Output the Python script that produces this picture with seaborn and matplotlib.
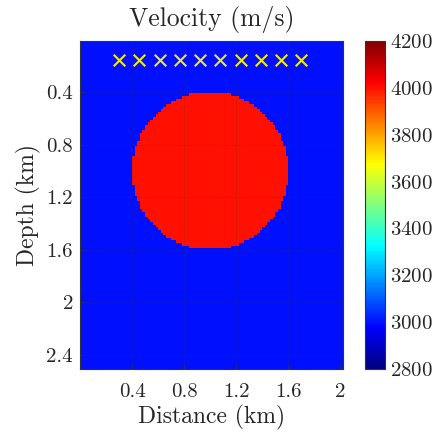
import numpy as np
import matplotlib
matplotlib.use("Agg")
import matplotlib.pyplot as plt
from matplotlib.colors import LinearSegmentedColormap
import seaborn as sns

# model grid (km)
dx = 0.02
x_edges = [0.0, 2.02]
z_edges = [0.01, 2.51]
v_background = 3000.0
v_anomaly = 4000.0
circle_center = [1.0, 1.0]
circle_radius = 0.6

# sources (km)
src_x = [0.30, 0.456, 0.611, 0.767, 0.922, 1.078, 1.233, 1.389, 1.544, 1.70]
src_z = [0.157] * 10

x_ticks = [0.4, 0.8, 1.2, 1.6, 2.0]
x_labels = ["0.4", "0.8", "1.2", "1.6", "2"]
z_ticks = [0.4, 0.8, 1.2, 1.6, 2.0, 2.4]
z_labels = ["0.4", "0.8", "1.2", "1.6", "2", "2.4"]
cbar_ticks = [2800, 3000, 3200, 3400, 3600, 3800, 4000, 4200]
vmin, vmax = 2800, 4200

# matlab-style jet
jet_ml = LinearSegmentedColormap("jet_ml", {
    "red":   [(0, 0, 0), (0.375, 0, 0), (0.625, 1, 1), (0.875, 1, 1), (1, 0.5, 0.5)],
    "green": [(0, 0, 0), (0.125, 0, 0), (0.375, 1, 1), (0.625, 1, 1), (0.875, 0, 0), (1, 0, 0)],
    "blue":  [(0, 0.5, 0.5), (0.125, 1, 1), (0.375, 1, 1), (0.625, 0, 0), (1, 0, 0)],
}, N=256)

sns.set_style("ticks")
plt.rcParams["font.family"] = ["cmr10", "DejaVu Serif"]
plt.rcParams["mathtext.fontset"] = "cm"
plt.rcParams["axes.formatter.use_mathtext"] = True

xc = np.arange(x_edges[0] + dx / 2, x_edges[1], dx)
zc = np.arange(z_edges[0] + dx / 2, z_edges[1], dx)
X, Z = np.meshgrid(xc, zc)
vel = np.full(X.shape, v_background)
vel[(X - circle_center[0]) ** 2 + (Z - circle_center[1]) ** 2 <= circle_radius ** 2] = v_anomaly

fig = plt.figure(figsize=(4.45, 4.32), dpi=100)
ax = fig.add_axes([0.1798, 0.1458, 0.591, 0.759])
cax = fig.add_axes([0.820, 0.1458, 0.045, 0.759])

im = ax.imshow(vel, cmap=jet_ml, vmin=vmin, vmax=vmax, aspect="auto",
               extent=[x_edges[0], x_edges[1], z_edges[1], z_edges[0]],
               interpolation="nearest")
sns.scatterplot(x=src_x, y=src_z, ax=ax, marker="x", color="#f2e81a",
                s=70, linewidth=1.5, zorder=5)

ax.set_xlim(x_edges)
ax.set_ylim(z_edges[1], z_edges[0])
ax.set_xticks(x_ticks, x_labels)
ax.set_yticks(z_ticks, z_labels)
ax.grid(True, color="#333333", alpha=0.18, linewidth=0.6)
ax.set_axisbelow(False)
ax.tick_params(direction="in", length=3, width=0.6, labelsize=15, color="#333333",
               labelcolor="#262626", pad=5)
ax.tick_params(axis="x", pad=10)
for s in ax.spines.values():
    s.set_linewidth(0.8)
    s.set_color("#333333")
ax.set_xlabel("Distance (km)", fontsize=17, color="#262626", labelpad=3)
ax.set_ylabel("Depth (km)", fontsize=17, color="#262626", labelpad=4)
ax.set_title("Velocity (m/s)", fontsize=18.5, color="#262626", pad=11)

cb = fig.colorbar(im, cax=cax, ticks=cbar_ticks)
cb.ax.tick_params(direction="in", length=3, width=0.6, labelsize=15,
                  color="#333333", labelcolor="#262626", pad=4)
cb.outline.set_linewidth(0.8)
cb.outline.set_edgecolor("#333333")

fig.savefig("out.png", dpi=100)
